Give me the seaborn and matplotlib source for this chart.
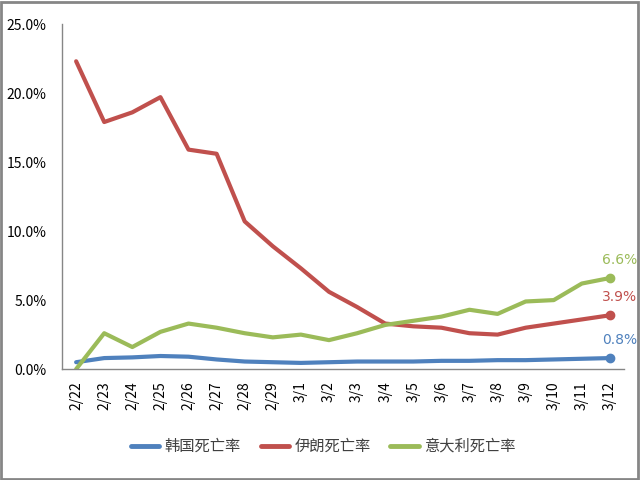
import matplotlib
matplotlib.use("Agg")
import matplotlib.pyplot as plt
import seaborn as sns
import pandas as pd
from matplotlib.patches import Rectangle
from matplotlib.lines import Line2D

dates = ["2/22", "2/23", "2/24", "2/25", "2/26", "2/27", "2/28", "2/29", "3/1", "3/2",
         "3/3", "3/4", "3/5", "3/6", "3/7", "3/8", "3/9", "3/10", "3/11", "3/12"]
korea = [0.5, 0.8, 0.85, 0.95, 0.9, 0.7, 0.55, 0.5, 0.45, 0.5,
         0.55, 0.55, 0.55, 0.6, 0.6, 0.65, 0.65, 0.7, 0.75, 0.8]
iran = [22.3, 17.9, 18.6, 19.7, 15.9, 15.6, 10.7, 8.9, 7.3, 5.6,
        4.5, 3.3, 3.1, 3.0, 2.6, 2.5, 3.0, 3.3, 3.6, 3.9]
italy = [0.0, 2.6, 1.6, 2.7, 3.3, 3.0, 2.6, 2.3, 2.5, 2.1,
         2.6, 3.2, 3.5, 3.8, 4.3, 4.0, 4.9, 5.0, 6.2, 6.6]
series_names = ["韩国死亡率", "伊朗死亡率", "意大利死亡率"]
end_labels = ["0.8%", "3.9%", "6.6%"]
colors = ["#4F81BD", "#C0504D", "#9BBB59"]

sns.set_style("white")
plt.rcParams['font.family'] = ['Noto Sans CJK SC', 'DejaVu Sans']

rows = []
for name, vals in zip(series_names, [korea, iran, italy]):
    for i, (d, v) in enumerate(zip(dates, vals)):
        rows.append({"idx": i, "date": d, "rate": v / 100.0, "series": name})
df = pd.DataFrame(rows)

fig = plt.figure(figsize=(6.4, 4.8), dpi=100)
ax = fig.add_axes([0.097, 0.231, 0.878, 0.719])
sns.lineplot(data=df, x="idx", y="rate", hue="series", hue_order=series_names,
             palette=colors, linewidth=3, ax=ax, legend=False)

for name, vals, col, lab in zip(series_names, [korea, iran, italy], colors, end_labels):
    xi = len(vals) - 1
    ax.plot([xi], [vals[-1] / 100.0], marker="o", markersize=6, color=col)
    ax.annotate(lab, (xi, vals[-1] / 100.0), xytext=(7, 13), textcoords="offset points",
                ha="center", va="center", color=col, fontsize=10,
                family=["DejaVu Sans"], annotation_clip=False)

ax.set_xlim(-0.5, len(dates) - 0.5)
ax.set_ylim(0, 0.25)
ax.set_yticks([0, 0.05, 0.10, 0.15, 0.20, 0.25])
ax.set_yticklabels(["0.0%", "5.0%", "10.0%", "15.0%", "20.0%", "25.0%"], fontsize=10)
ax.set_xticks(range(len(dates)))
ax.set_xticklabels(dates, rotation=90, fontsize=10, va="top", ha="center")
ax.tick_params(axis="y", length=0, colors="black", pad=11)
ax.tick_params(axis="x", length=0, colors="black", pad=9)
ax.set_xlabel("")
ax.set_ylabel("")
for s in ["top", "right"]:
    ax.spines[s].set_visible(False)
for s in ["left", "bottom"]:
    ax.spines[s].set_color("#868686")
    ax.spines[s].set_linewidth(1)

handles = [Line2D([0], [0], color=c, linewidth=3.5) for c in colors]
fig.legend(handles, series_names, loc="center", bbox_to_anchor=(0.505, 0.07), ncol=3,
           frameon=False, fontsize=11, handlelength=1.85, handletextpad=0.35,
           columnspacing=1.3, labelcolor="#404040")

fig.patches.append(Rectangle((0.002, 0.002), 0.995, 0.994, transform=fig.transFigure,
                             fill=False, edgecolor="#868686", linewidth=2))

fig.savefig("out.png", dpi=100)
